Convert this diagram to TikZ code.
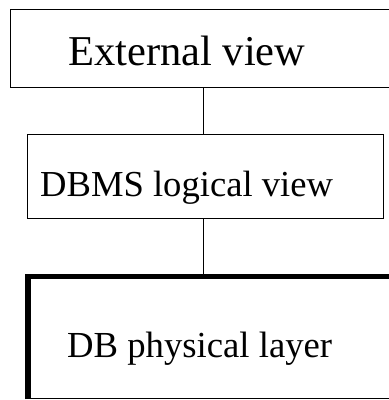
\documentclass[tikz,border=0pt]{standalone}
\usepackage{fontspec}
\setmainfont{Liberation Serif}
\usepackage{tikz}

\begin{document}
\begin{tikzpicture}[x=1pt,y=-1pt,
  box/.style={draw,line width=1pt,inner sep=0pt,anchor=north west},
  lbl/.style={anchor=base west,inner sep=0pt}]

 \useasboundingbox (0,0) rectangle (389,400);

 \node[box,minimum width=385pt,minimum height=78pt] (ext) at (10,9) {}; % External view
 \node[lbl,font=\fontsize{42.5}{42.5}\selectfont] (exttxt) at (68,65) {External view};

 \node[box,minimum width=356pt,minimum height=84pt] (dbms) at (27,134) {}; % DBMS logical view
 \node[lbl,font=\fontsize{36.6}{36.6}\selectfont] (dbmstxt) at (40,196) {DBMS logical view};

 \node[box,minimum width=375pt,minimum height=121.5pt] (phys) at (28,276.5) {}; % DB physical layer
 \draw[line width=5.5pt,line join=miter] (phys.south west) -- (phys.north west) -- (phys.north east); % heavy edge
 \node[lbl,font=\fontsize{36.7}{36.7}\selectfont] (phystxt) at (67,357) {DB physical layer};

% Connect the layers
 \draw[line width=1pt] (ext.south) -- (ext.south |- dbms.north);
 \draw[line width=1pt] (dbms.south -| ext.south) -- (ext.south |- phys.north);

\end{tikzpicture}
\end{document}
